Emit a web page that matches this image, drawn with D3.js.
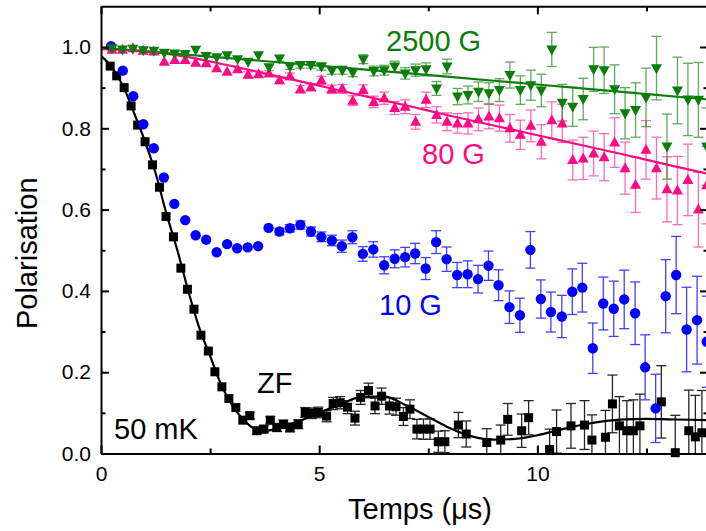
<!DOCTYPE html>
<html>
<head>
<meta charset="utf-8">
<script src="https://cdn.jsdelivr.net/npm/d3@7"></script>
<style>
  html, body { margin: 0; padding: 0; background: #fff; }
  svg { display: block; font-family: "Liberation Sans", Arial, Helvetica, sans-serif; }
</style>
</head>
<body>
<svg id="chart" width="706" height="531"></svg>
<script>
// ---------------- DATA ----------------
// Zero field (ZF), black squares
const zfT = [0.21,0.36,0.53,0.69,0.84,1.01,1.18,1.34,1.49,1.66,1.83,1.98,2.13,2.29,2.46,2.61,2.77,2.93,3.09,3.25,
  3.41,3.57,3.73,3.88,4.03,4.18,4.33,4.52,4.68,4.83,4.98,5.17,5.32,5.48,5.65,5.82,5.95,6.13,6.28,6.43,
  6.61,6.76,6.93,7.08,7.24,7.39,7.54,7.73,7.88,8.19,8.37,8.84,9.16,9.32,9.64,9.80,10.28,10.44,10.77,11.08,
  11.25,11.56,11.72,11.88,12.05,12.20,12.35,12.84,13.16,13.47,13.62,13.77];
const zfP = [0.953,0.929,0.900,0.855,0.808,0.767,0.710,0.655,0.583,0.533,0.456,0.404,0.355,0.291,0.252,0.201,0.164,0.135,0.113,0.082,
  0.093,0.056,0.060,0.082,0.064,0.072,0.064,0.072,0.101,0.099,0.101,0.092,0.123,0.125,0.114,0.087,0.138,0.155,0.117,0.141,
  0.117,0.115,0.091,0.109,0.060,0.060,0.060,0.029,0.029,0.070,0.048,0.027,0.033,0.084,0.056,0.088,0.010,0.054,0.068,0.070,
  0.033,0.040,0.122,0.068,0.056,0.056,0.068,0.127,0.002,0.056,0.041,0.051];
const zfErr = [0.004,0.004,0.004,0.004,0.004,0.004,0.004,0.004,0.004,0.004,0.004,0.004,0.004,0.004,0.004,0.004,0.004,0.004,0.004,0.004,
  0.008,0.008,0.009,0.009,0.010,0.010,0.011,0.011,0.012,0.013,0.013,0.014,0.015,0.015,0.016,0.017,0.017,0.018,0.019,0.020,
  0.020,0.021,0.022,0.023,0.024,0.025,0.025,0.026,0.027,0.031,0.032,0.034,0.037,0.039,0.041,0.042,0.050,0.053,0.055,0.060,
  0.062,0.066,0.071,0.072,0.074,0.076,0.078,0.089,0.092,0.100,0.102,0.104];
const zfFitT = [0,0.25,0.5,0.75,1,1.25,1.5,1.75,2,2.25,2.5,2.75,3,3.25,3.5,3.75,4,4.5,5,5.5,6,6.5,7,7.5,8,8.5,9,9.5,10,10.5,11,11.5,12,12.5,13,13.5,13.91];
const zfFitP = [0.978,0.95,0.905,0.84,0.77,0.69,0.59,0.50,0.40,0.31,0.24,0.17,0.12,0.085,0.062,0.055,0.06,0.078,0.10,0.122,0.14,0.14,0.118,0.09,0.062,0.042,0.034,0.036,0.045,0.058,0.07,0.079,0.084,0.085,0.084,0.083,0.082];

// 10 G, blue circles
const g10T = [0.23,0.50,0.74,0.97,1.21,1.44,1.68,1.93,2.17,2.41,2.65,2.89,3.12,3.36,3.60,3.84,
  4.09,4.33,4.57,4.81,5.05,5.29,5.52,5.76,6.00,6.24,6.49,6.73,6.97,7.20,7.44,7.68,7.92,8.16,8.40,8.64,
  8.88,9.11,9.36,9.60,9.84,10.08,10.31,10.56,10.80,11.03,11.27,11.51,11.75,11.99,12.24,12.47,12.71,12.94,13.18,13.42,13.66,13.88];
const g10P = [1.002,0.942,0.879,0.810,0.751,0.679,0.614,0.574,0.537,0.526,0.495,0.515,0.505,0.507,0.510,0.555,
  0.546,0.554,0.562,0.546,0.533,0.524,0.510,0.532,0.491,0.502,0.463,0.479,0.483,0.492,0.455,0.520,0.478,0.439,0.441,0.429,
  0.462,0.414,0.360,0.340,0.501,0.380,0.348,0.337,0.398,0.408,0.259,0.369,0.356,0.379,0.345,0.212,0.111,0.387,0.439,0.305,0.328,0.275];
const g10Err = [0.004,0.004,0.004,0.004,0.004,0.004,0.004,0.004,0.004,0.004,0.004,0.004,0.005,0.005,0.006,0.006,
  0.008,0.009,0.010,0.011,0.012,0.013,0.015,0.016,0.018,0.019,0.021,0.022,0.024,0.025,0.027,0.028,0.030,0.031,0.033,0.034,
  0.036,0.038,0.040,0.042,0.045,0.047,0.049,0.052,0.056,0.060,0.062,0.065,0.068,0.072,0.077,0.080,0.084,0.090,0.095,0.104,0.108,0.112];

// 80 G (pink, up triangles) and 2500 G (green, down triangles) share the time grid
const lfT = [0.25,0.49,0.73,0.97,1.21,1.45,1.69,1.93,2.17,2.41,2.65,2.89,3.13,3.37,3.61,3.85,4.09,4.33,4.57,4.81,
  5.05,5.29,5.53,5.77,6.01,6.25,6.49,6.73,6.97,7.21,7.45,7.69,7.93,8.17,8.41,8.65,8.89,9.13,9.37,9.61,
  9.85,10.09,10.33,10.57,10.81,11.05,11.29,11.53,11.77,12.01,12.25,12.49,12.73,12.97,13.21,13.45,13.69,13.88];
const g80P = [0.993,0.993,0.997,0.991,0.989,0.964,0.968,0.968,0.961,0.960,0.948,0.939,0.945,0.932,0.933,0.935,0.918,0.928,0.896,0.901,
  0.918,0.896,0.897,0.868,0.894,0.865,0.874,0.850,0.853,0.816,0.870,0.833,0.816,0.812,0.812,0.822,0.829,0.825,0.800,0.784,
  0.806,0.767,0.820,0.812,0.722,0.726,0.738,0.729,0.765,0.702,0.661,0.747,0.702,0.650,0.647,0.673,0.600,0.660];
const g80Err = [0.004,0.004,0.004,0.004,0.004,0.004,0.004,0.005,0.005,0.005,0.006,0.006,0.006,0.007,0.007,0.007,0.008,0.008,0.009,0.009,
  0.010,0.010,0.011,0.012,0.013,0.014,0.015,0.016,0.017,0.018,0.019,0.020,0.022,0.024,0.026,0.028,0.030,0.032,0.034,0.036,
  0.039,0.042,0.045,0.047,0.049,0.052,0.055,0.058,0.061,0.064,0.068,0.072,0.076,0.080,0.084,0.088,0.092,0.095];
const g2500P = [0.997,0.994,0.996,0.992,0.991,0.986,0.984,0.983,0.993,0.978,0.975,0.980,0.970,0.964,0.980,0.950,0.972,0.952,0.956,0.956,
  0.952,0.942,0.943,0.937,0.970,0.941,0.943,0.952,0.935,0.943,0.945,0.898,0.952,0.878,0.882,0.890,0.886,0.894,0.931,0.894,
  0.906,0.893,0.994,0.863,0.853,0.872,0.945,0.943,0.896,0.837,0.845,0.876,0.948,0.755,0.893,0.871,0.870,0.755];
const g2500Err = [0.003,0.003,0.003,0.003,0.003,0.003,0.003,0.003,0.004,0.004,0.005,0.005,0.005,0.006,0.006,0.006,0.007,0.007,0.008,0.008,
  0.009,0.009,0.010,0.010,0.011,0.012,0.012,0.013,0.014,0.015,0.016,0.017,0.018,0.020,0.022,0.024,0.026,0.028,0.032,0.035,
  0.037,0.040,0.042,0.045,0.048,0.051,0.054,0.057,0.060,0.063,0.067,0.072,0.078,0.080,0.082,0.089,0.092,0.095];

const g80FitT = [0,1,2,3,4,5,6,7,8,9,10,11,12,13,13.91];
const g80FitP = [0.995,0.99,0.975,0.953,0.929,0.905,0.88,0.856,0.831,0.807,0.783,0.759,0.735,0.71,0.688];
const g2500FitT = [0,3,6,9,12,13.91];
const g2500FitP = [0.998,0.972,0.945,0.917,0.889,0.871];

const xTicks = [0, 5, 10];
const xMinor = [2.5, 7.5, 12.5];
const yTicks = [0, 0.2, 0.4, 0.6, 0.8, 1.0];
const yMinor = [0.1, 0.3, 0.5, 0.7, 0.9];

// ---------------- DRAWING ----------------
const svg = d3.select("#chart");
const x = d3.scaleLinear().domain([0, 13.91]).range([101, 708]);
const y = d3.scaleLinear().domain([0, 1.1]).range([453.5, 6.35]);

const C = { zf: "#000000", g10: "#0000ff", g80: "#ff0a84", g2500: "#0a7d0a" };

svg.append("defs").append("clipPath").attr("id", "plotclip")
  .append("rect").attr("x", x(0)).attr("y", y(1.1)).attr("width", x(13.91) - x(0)).attr("height", y(0) - y(1.1));

const zip = (t, p, e) => t.map((d, i) => ({ t: d, p: p[i], e: e ? e[i] : 0 }));

function errorBars(data, color, opacity, cap) {
  const g = svg.append("g").attr("stroke", color).attr("stroke-width", 1.3).attr("opacity", opacity)
    .attr("clip-path", "url(#plotclip)");
  data.forEach(d => {
    const x0 = x(d.t), y1 = y(d.p + d.e), y2 = y(d.p - d.e);
    if (Math.abs(y2 - y1) < 5) return;
    g.append("line").attr("x1", x0).attr("x2", x0).attr("y1", y1).attr("y2", y2);
    g.append("line").attr("x1", x0 - cap).attr("x2", x0 + cap).attr("y1", y1).attr("y2", y1);
    g.append("line").attr("x1", x0 - cap).attr("x2", x0 + cap).attr("y1", y2).attr("y2", y2);
  });
}

function fitLine(t, p, color) {
  const line = d3.line().x(d => x(d.t)).y(d => y(d.p)).curve(d3.curveMonotoneX);
  svg.append("path").datum(zip(t, p)).attr("d", line)
    .attr("fill", "none").attr("stroke", color).attr("stroke-width", 2.2)
    .attr("clip-path", "url(#plotclip)");
}

const zf = zip(zfT, zfP, zfErr);
const g10 = zip(g10T, g10P, g10Err);
const g80 = zip(lfT, g80P, g80Err);
const g2500 = zip(lfT, g2500P, g2500Err);

// error bars
errorBars(zf, "#000", 0.85, 5);
errorBars(g10, C.g10, 0.75, 5);
errorBars(g80, C.g80, 0.6, 5);
errorBars(g2500, C.g2500, 0.65, 5);

// fits
fitLine(zfFitT, zfFitP, "#000");
fitLine(g80FitT, g80FitP, C.g80);
fitLine(g2500FitT, g2500FitP, C.g2500);

// markers
svg.append("g").selectAll("rect").data(zf).join("rect")
  .attr("x", d => x(d.t) - 4.5).attr("y", d => y(d.p) - 4.5)
  .attr("width", 9).attr("height", 9).attr("fill", C.zf);

svg.append("g").selectAll("circle").data(g10).join("circle")
  .attr("cx", d => x(d.t)).attr("cy", d => y(d.p)).attr("r", 5.2).attr("fill", C.g10);

const upTri = "M0,-6L5.5,4L-5.5,4Z";
const downTri = "M0,6L5.5,-4L-5.5,-4Z";
svg.append("g").selectAll("path").data(g80).join("path")
  .attr("d", upTri).attr("transform", d => `translate(${x(d.t)},${y(d.p)})`).attr("fill", C.g80);
svg.append("g").selectAll("path").data(g2500).join("path")
  .attr("d", downTri).attr("transform", d => `translate(${x(d.t)},${y(d.p)})`).attr("fill", C.g2500);

// axes
function styleAxis(g) {
  g.selectAll("path.domain").attr("stroke", "#000").attr("stroke-width", 2);
  g.selectAll(".tick line").attr("stroke", "#000").attr("stroke-width", 2);
  g.selectAll(".tick text").attr("font-size", 21).attr("fill", "#000")
    .attr("font-family", '"Liberation Sans", Arial, sans-serif');
}
const yTop = y(1.1), yBot = y(0), xL = x(0), xR = x(13.91);

svg.append("g").attr("transform", `translate(0,${yBot})`)
  .call(d3.axisBottom(x).tickValues(xTicks).tickSizeInner(-8).tickSizeOuter(0).tickPadding(12.5).tickFormat(d3.format("d")))
  .call(styleAxis);
svg.append("g").attr("transform", `translate(0,${yBot})`)
  .call(d3.axisBottom(x).tickValues(xMinor).tickSizeInner(-5).tickSizeOuter(0).tickFormat(""))
  .call(g => g.select(".domain").remove()).call(styleAxis);
svg.append("g").attr("transform", `translate(0,${yTop})`)
  .call(d3.axisTop(x).tickValues(xTicks).tickSizeInner(-8).tickSizeOuter(0).tickFormat(""))
  .call(styleAxis);
svg.append("g").attr("transform", `translate(0,${yTop})`)
  .call(d3.axisTop(x).tickValues(xMinor).tickSizeInner(-5).tickSizeOuter(0).tickFormat(""))
  .call(g => g.select(".domain").remove()).call(styleAxis);

svg.append("g").attr("transform", `translate(${xL},0)`)
  .call(d3.axisLeft(y).tickValues(yTicks).tickSizeInner(-8).tickSizeOuter(0).tickPadding(10).tickFormat(d3.format(".1f")))
  .call(styleAxis);
svg.append("g").attr("transform", `translate(${xL},0)`)
  .call(d3.axisLeft(y).tickValues(yMinor).tickSizeInner(-4.5).tickSizeOuter(0).tickFormat(""))
  .call(g => g.select(".domain").remove()).call(styleAxis);
svg.append("g").attr("transform", `translate(${xR},0)`)
  .call(d3.axisRight(y).tickValues(yTicks).tickSizeInner(-8).tickSizeOuter(0).tickFormat(""))
  .call(styleAxis);
svg.append("g").attr("transform", `translate(${xR},0)`)
  .call(d3.axisRight(y).tickValues(yMinor).tickSizeInner(-4.5).tickSizeOuter(0).tickFormat(""))
  .call(g => g.select(".domain").remove()).call(styleAxis);

// axis titles
svg.append("text").attr("x", 420).attr("y", 519).attr("text-anchor", "middle")
  .attr("font-size", 29).attr("fill", "#000").text("Temps (μs)");
svg.append("text").attr("transform", "translate(37,329) rotate(-90)").attr("text-anchor", "start")
  .attr("font-size", 29).attr("fill", "#000").text("Polarisation");

// series labels
const labels = [
  { text: "2500 G", x: 386, y: 51, color: C.g2500 },
  { text: "80 G", x: 422, y: 164, color: C.g80 },
  { text: "10 G", x: 379, y: 315, color: C.g10 },
  { text: "ZF", x: 257, y: 393, color: "#000" },
  { text: "50 mK", x: 114, y: 439, color: "#000" }
];
svg.append("g").selectAll("text").data(labels).join("text")
  .attr("x", d => d.x).attr("y", d => d.y).attr("fill", d => d.color)
  .attr("font-size", 29).text(d => d.text);
</script>
</body>
</html>
